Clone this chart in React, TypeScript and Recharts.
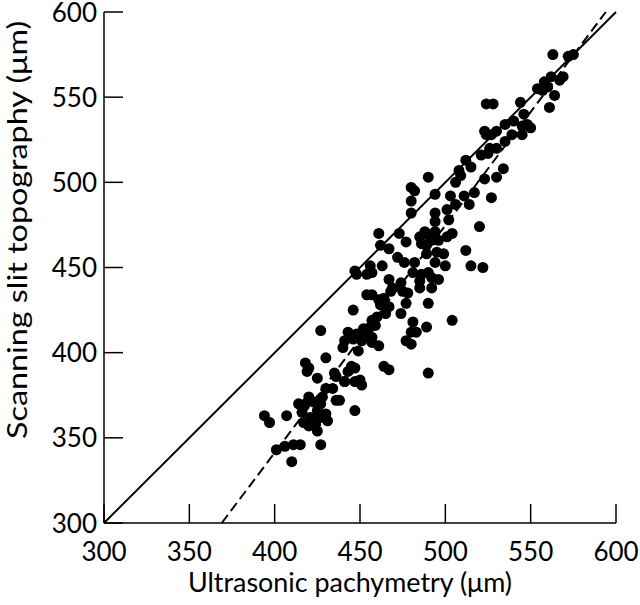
import { ScatterChart, Scatter, XAxis, YAxis, ReferenceLine, Label } from 'recharts';

// ultrasonic pachymetry (x) and scanning slit topography (y), in µm
const ultrasonic = [
  394, 397, 407, 401, 406, 411, 415, 410, 427, 418, 420, 419, 430, 425, 440, 435, 436, 441, 434, 430,
  428, 436, 414, 420, 416, 417, 420, 423, 425, 427, 430, 431, 424, 425, 427, 421, 418,
  446, 451, 457, 461, 457, 449, 445, 447, 443, 441, 447, 451, 450, 438, 447, 464, 467, 480, 490,
  480, 482, 480, 494, 503, 506, 511, 512, 480, 494, 501, 502, 461, 473, 485, 488, 490, 492, 486, 489,
  494, 496, 504, 501, 494, 477, 462, 467, 489, 495, 499, 494, 500, 472, 476, 463, 456, 447, 448, 482,
  481, 486, 490, 492, 496, 485, 454, 457, 467, 474, 475, 469, 485, 492, 454, 457, 461, 464, 468, 478,
  462, 467, 446, 477, 490, 474, 465, 460, 457, 456, 459, 481, 480, 483, 489, 504, 443, 448, 452, 454,
  477, 517, 514, 527, 520, 515, 522,
  563, 572, 575, 569, 567, 562, 558, 554, 557, 560, 564, 561, 544, 524, 528, 546, 540, 535, 548, 550,
  545, 523, 527, 530, 524, 539, 545, 535, 526, 530, 525, 521, 512, 515, 508, 509, 523, 530, 534,
  490, 506, 427, 441,
];
const scanning = [
  363, 359, 363, 343, 345, 346, 346, 336, 346, 394, 391, 389, 397, 385, 403, 388, 386, 383, 379, 379,
  374, 372, 370, 374, 365, 359, 357, 371, 366, 362, 364, 360, 358, 354, 370, 362, 370,
  408, 407, 406, 404, 409, 401, 392, 391, 389, 383, 383, 381, 384, 372, 366, 392, 390, 405, 388,
  497, 495, 489, 493, 492, 487, 492, 460, 482, 482, 484, 478, 470, 470, 468, 471, 469, 466, 464, 463,
  471, 466, 470, 468, 477, 465, 463, 461, 458, 459, 458, 453, 451, 456, 453, 451, 451, 448, 446, 453,
  447, 446, 447, 444, 443, 442, 446, 447, 443, 441, 436, 438, 438, 438, 434, 434, 431, 432, 436, 435,
  428, 427, 425, 429, 429, 423, 423, 421, 419, 415, 416, 418, 412, 412, 415, 419, 412, 411, 414, 410,
  407, 494, 487, 491, 474, 451, 450,
  575, 574, 575, 562, 560, 562, 559, 555, 554, 556, 551, 544, 547, 546, 546, 540, 536, 534, 534, 532,
  533, 530, 528, 530, 528, 528, 528, 524, 520, 520, 517, 516, 513, 509, 507, 504, 502, 503, 508,
  503, 500, 413, 407,
];
const ticks = [300, 350, 400, 450, 500, 550, 600];
const identityLine = [{ x: 300, y: 300 }, { x: 600, y: 600 }];
const regressionLine = [{ x: 369, y: 300 }, { x: 594, y: 600 }];

const points = ultrasonic.map((x, i) => ({ x, y: scanning[i] }));

const FONT = 'Lato, sans-serif';
const TICK_SIZE = 26;
const TITLE_SIZE = 26;

const XTick = ({ x, y, payload }: any) => (
  <g>
    <line x1={x} y1={y} x2={x} y2={y - 19} stroke="#000" strokeWidth={1.5} />
    <text x={x} y={y + 38} textAnchor="middle" fontFamily={FONT} fontSize={TICK_SIZE} fill="#000">
      {payload.value}
    </text>
  </g>
);

const YTick = ({ x, y, payload }: any) => (
  <g>
    <line x1={x} y1={y} x2={x + 19} y2={y} stroke="#000" strokeWidth={1.5} />
    <text x={x - 7} y={y + 9.5} textAnchor="end" fontFamily={FONT} fontSize={TICK_SIZE} fill="#000">
      {payload.value}
    </text>
  </g>
);

const Dot = ({ cx, cy }: any) => <circle cx={cx} cy={cy} r={5.5} fill="#000" />;

export default function App() {
  return (
    <div style={{ position: 'absolute', left: 0, top: 0, background: '#fff' }}>
      <ScatterChart width={640} height={605} margin={{ top: 12, right: 24, left: 0, bottom: 0 }}>
        <XAxis
          type="number"
          dataKey="x"
          domain={[300, 600]}
          ticks={ticks}
          interval={0}
          height={82}
          tickSize={0}
          tickMargin={0}
          tickLine={false}
          tick={<XTick />}
          axisLine={{ stroke: '#000', strokeWidth: 1.5 }}
        >
          <Label
            content={() => (
              <text
                x={350}
                y={592}
                textAnchor="middle"
                fontFamily={FONT}
                fontSize={TITLE_SIZE}
                textLength={324}
                lengthAdjust="spacingAndGlyphs"
                fill="#000"
              >
                Ultrasonic pachymetry (μm)
              </text>
            )}
          />
        </XAxis>
        <YAxis
          type="number"
          dataKey="y"
          domain={[300, 600]}
          ticks={ticks}
          interval={0}
          width={104}
          tickSize={0}
          tickMargin={0}
          tickLine={false}
          tick={<YTick />}
          axisLine={{ stroke: '#000', strokeWidth: 1.5 }}
        >
          <Label
            content={() => (
              <text
                x={0}
                y={0}
                transform="translate(27, 230) rotate(-90)"
                textAnchor="middle"
                fontFamily={FONT}
                fontSize={TITLE_SIZE}
                textLength={418}
                lengthAdjust="spacingAndGlyphs"
                fill="#000"
              >
                Scanning slit topography (μm)
              </text>
            )}
          />
        </YAxis>
        <ReferenceLine segment={identityLine} stroke="#000" strokeWidth={2} />
        <ReferenceLine segment={regressionLine} stroke="#000" strokeWidth={2} strokeDasharray="10 5" />
        <Scatter data={points} shape={<Dot />} isAnimationActive={false} />
      </ScatterChart>
    </div>
  );
}
